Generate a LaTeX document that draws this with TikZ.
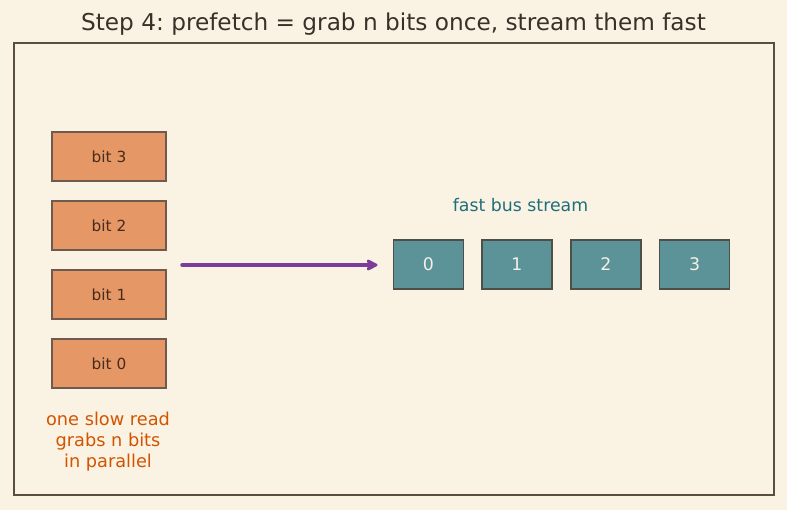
\documentclass[tikz,border=0pt]{standalone}
\usepackage{fontspec}
\setmainfont{DejaVu Sans}
\usetikzlibrary{arrows.meta}
\frenchspacing
\definecolor{bg}{HTML}{FAF3E3}
\definecolor{framec}{HTML}{5C4E3D}
\definecolor{bitfill}{HTML}{E59866}
\definecolor{bitdraw}{HTML}{6E5A4E}
\definecolor{bittext}{HTML}{4A2A1A}
\definecolor{tealfill}{HTML}{5B9399}
\definecolor{tealdraw}{HTML}{4F4F4A}
\definecolor{tealtext}{HTML}{F6F0E4}
\definecolor{titlec}{HTML}{3A3028}
\definecolor{busc}{HTML}{1F6E7A}
\definecolor{slowc}{HTML}{D35400}
\definecolor{arrowc}{HTML}{7D3C98}
\tikzset{
  bitbox/.style={draw=bitdraw, fill=bitfill, line width=1.1pt, minimum width=85.5pt, minimum height=36.75pt, inner sep=0pt, outer sep=0pt, text=bittext, font=\fontsize{11.5pt}{13pt}\selectfont},
  slotbox/.style={draw=tealdraw, fill=tealfill, line width=1.1pt, minimum width=52.5pt, minimum height=36.75pt, inner sep=0pt, outer sep=0pt, text=tealtext, font=\fontsize{13pt}{15pt}\selectfont},
  flow/.style={draw=arrowc, line width=2.6pt, line cap=round, -{Stealth[length=10pt, width=10pt, inset=2pt, round]}},
}
\begin{document}
\begin{tikzpicture}[x=0.75pt, y=-0.75pt]
\fill[bg] (0,0) rectangle (787,510);
\useasboundingbox (0,0) rectangle (787,510);
\node[text=titlec, font=\fontsize{17.4pt}{20pt}\selectfont] (title) at (393.5,24) {Step 4: prefetch = grab n bits once, stream them fast};
\draw[framec, line width=1.1pt] (14,43) rectangle (774,495);
\node[bitbox] (b3) at (109,156.5) {bit 3};
\node[bitbox] (b2) at (109,225.5) {bit 2};
\node[bitbox] (b1) at (109,294.5) {bit 1};
\node[bitbox] (b0) at (109,363.5) {bit 0};
\node[text=slowc, font=\fontsize{13.3pt}{15.75pt}\selectfont, align=center] (slow) at (108,442) {one slow read\\grabs n bits\\in parallel};
\node[text=busc, font=\fontsize{13pt}{15pt}\selectfont] (bus) at (520.5,205) {fast bus stream};
\node[slotbox] (s0) at (428.5,264.5) {0};
\node[slotbox] (s1) at (517,264.5) {1};
\node[slotbox] (s2) at (606,264.5) {2};
\node[slotbox] (s3) at (694.5,264.5) {3};
\coordinate (src) at (182,265);
\draw[flow, shorten >=12pt] (src) -- (s0.west |- src);
\end{tikzpicture}
\end{document}
